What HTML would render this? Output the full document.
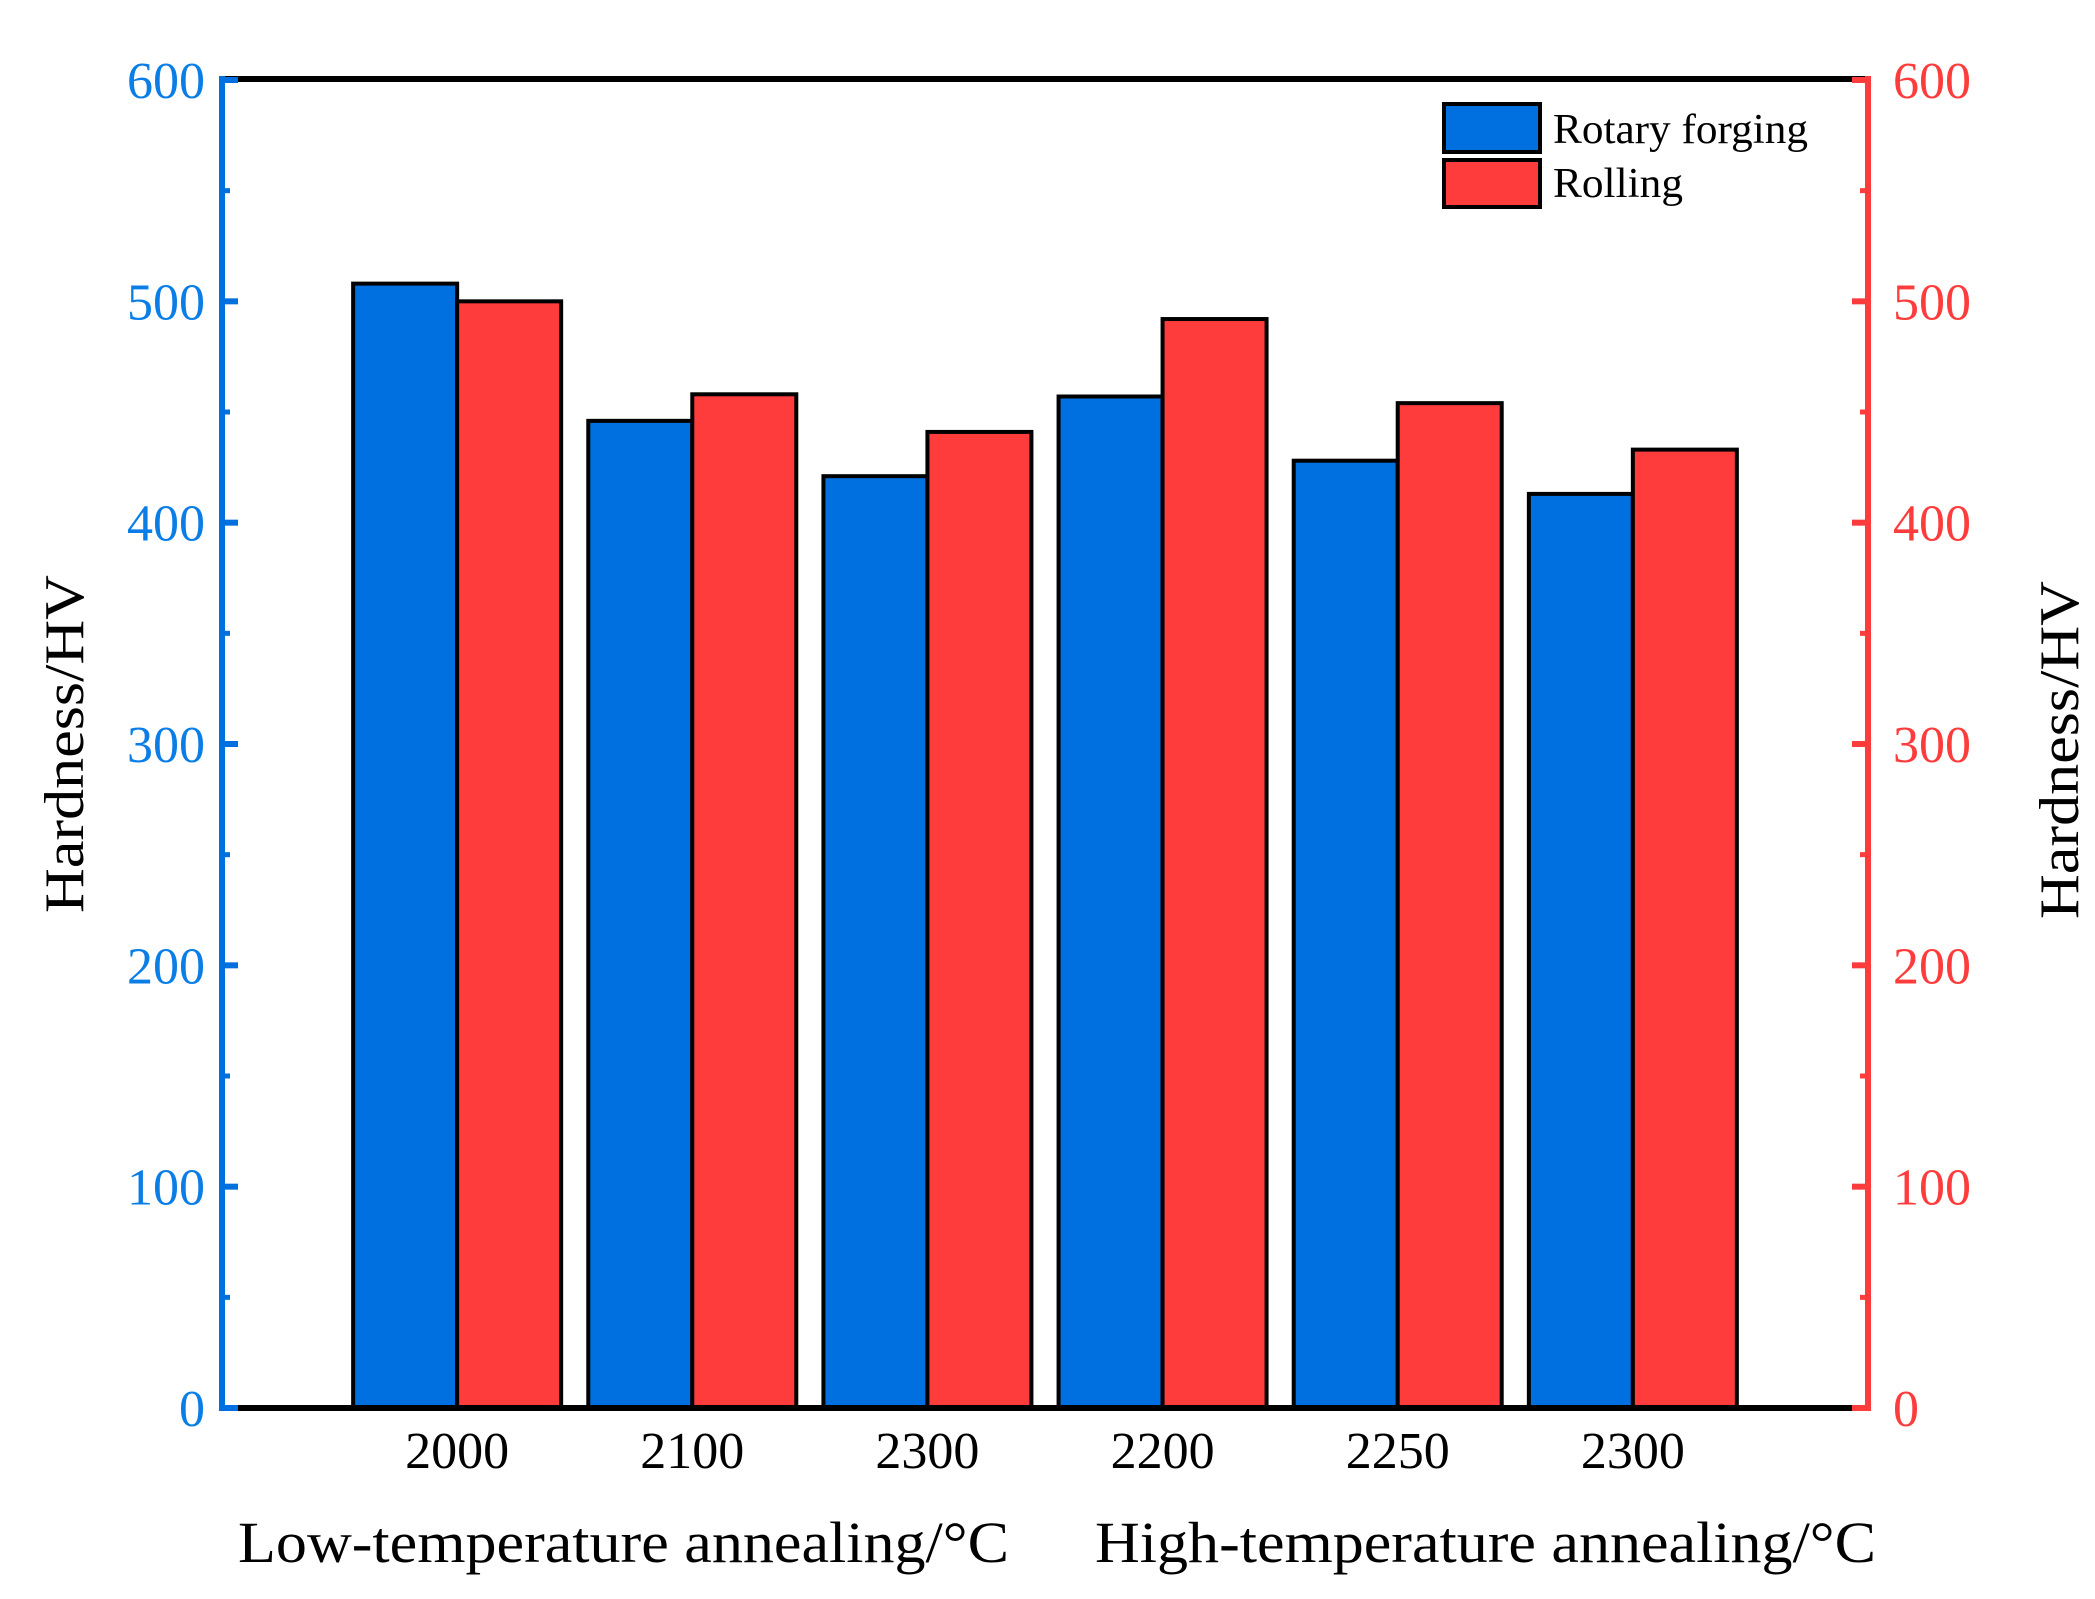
<!DOCTYPE html>
<html><head><meta charset="utf-8"><style>
html,body{margin:0;padding:0;background:#fff;}
svg{display:block;font-family:"Liberation Serif",serif;}
</style></head><body>
<svg id="chart" width="2095" height="1599" viewBox="0 0 2095 1599" xmlns="http://www.w3.org/2000/svg">
<g id="bars"></g>
<g id="axes"></g>
<g>
 <rect x="1444" y="104" width="96" height="48" fill="#0070e0" stroke="#000" stroke-width="4"/>
 <rect x="1444" y="160" width="96" height="47" fill="#ff3c3c" stroke="#000" stroke-width="4"/>
 <text x="1553" y="143" font-size="42" textLength="255" lengthAdjust="spacingAndGlyphs">Rotary forging</text>
 <text x="1553" y="197" font-size="42" textLength="130" lengthAdjust="spacingAndGlyphs">Rolling</text>
</g>
<text transform="translate(83,744) rotate(-90)" text-anchor="middle" font-size="56" textLength="338" lengthAdjust="spacingAndGlyphs">Hardness/HV</text>
<text transform="translate(2078,750) rotate(-90)" text-anchor="middle" font-size="56" textLength="338" lengthAdjust="spacingAndGlyphs">Hardness/HV</text>
<text x="238" y="1562" font-size="58" textLength="771" lengthAdjust="spacingAndGlyphs">Low-temperature annealing/°C</text>
<text x="1095" y="1562" font-size="58" textLength="781" lengthAdjust="spacingAndGlyphs">High-temperature annealing/°C</text>
</svg>
<script>
const categories = ["2000","2100","2300","2200","2250","2300"];
const rotaryForging = [508,446,421,457,428,413];
const rolling = [500,458,441,492,454,433];
const yTicks = [0,100,200,300,400,500,600];

(function(){
const NS="http://www.w3.org/2000/svg";
const L=222, R=1868, T=80, B=1408, YMAX=600;
const y = v => B - (B-T)*v/YMAX;
const slot = (R-L)/(categories.length+1);
const xc = i => L + slot*(i+1);
const BW = 104;
function mk(tag, attrs, parent){const e=document.createElementNS(NS,tag);for(const k in attrs)e.setAttribute(k,attrs[k]);parent.appendChild(e);return e;}
const bars=document.getElementById('bars'), axes=document.getElementById('axes');
categories.forEach((c,i)=>{
  const cx=xc(i);
  const b1=mk('rect',{x:cx-BW,y:y(rotaryForging[i]),width:BW,height:B-y(rotaryForging[i]),fill:'#0070e0',stroke:'#000','stroke-width':4},bars);
  
  
  const b2=mk('rect',{x:cx,y:y(rolling[i]),width:BW,height:B-y(rolling[i]),fill:'#ff3c3c',stroke:'#000','stroke-width':4},bars);
  
  
  const t=mk('text',{x:cx,y:1468,'font-size':52,'text-anchor':'middle',fill:'#000'},axes);
  t.textContent=c;
  
  
});
const topLine=mk('line',{x1:L,y1:T-1,x2:R,y2:T-1,stroke:'#000','stroke-width':6},axes);


const bot=mk('line',{x1:L,y1:B,x2:R,y2:B,stroke:'#000','stroke-width':6},axes);


const la=mk('line',{x1:L,y1:T-4,x2:L,y2:B+3,stroke:'#0070e0','stroke-width':6},axes);


const ra=mk('line',{x1:R,y1:T-4,x2:R,y2:B+3,stroke:'#ff3c3c','stroke-width':6},axes);


yTicks.forEach(v=>{
  const lt=mk('line',{x1:L,x2:L+16,y1:y(v),y2:y(v),stroke:'#0070e0','stroke-width':6},axes);
  
  
  const rt=mk('line',{x1:R-16,x2:R,y1:y(v),y2:y(v),stroke:'#ff3c3c','stroke-width':6},axes);
  
  
  if(v<600){
    const m=y(v+50);
    const lm=mk('line',{x1:L,x2:L+8,y1:m,y2:m,stroke:'#0070e0','stroke-width':5},axes);
    
    
    const rm=mk('line',{x1:R-8,x2:R,y1:m,y2:m,stroke:'#ff3c3c','stroke-width':5},axes);
    
    
  }
  const tl=mk('text',{x:205,y:y(v)+18,'font-size':52,'text-anchor':'end',fill:'#0a7ee6'},axes);
  tl.textContent=v;
  
  
  const tr=mk('text',{x:1893,y:y(v)+18,'font-size':52,'text-anchor':'start',fill:'#ff3c3c'},axes);
  tr.textContent=v;
  
  
});
})();
</script>
</body></html>
